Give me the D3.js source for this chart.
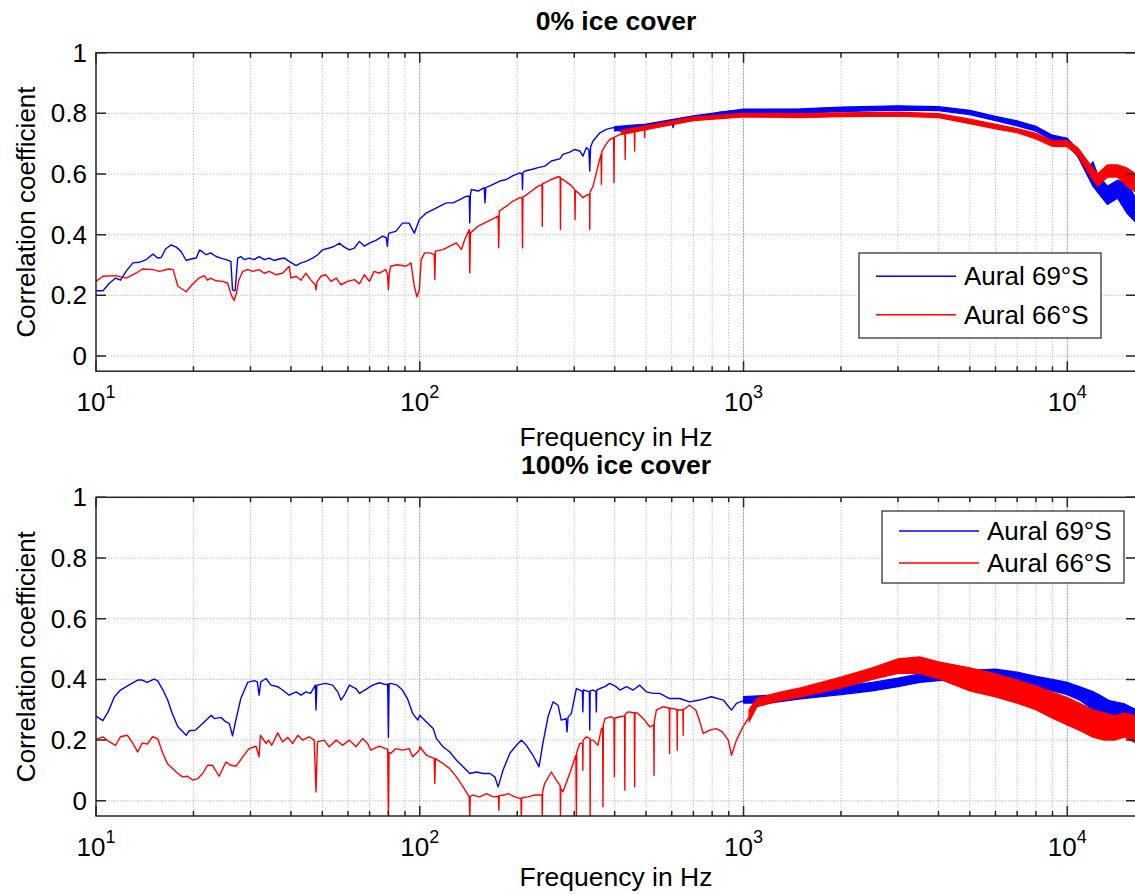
<!DOCTYPE html>
<html>
<head>
<meta charset="utf-8">
<script src="https://cdnjs.cloudflare.com/ajax/libs/d3/7.8.5/d3.min.js"></script>
<style>
  body { margin: 0; background: #fff; }
  svg { display: block; font-family: "Liberation Sans", Arial, sans-serif; }
</style>
</head>
<body>
<div id="chart"></div>
<script>
// ---- data: [frequency in Hz, correlation] ----
const seriesNames = ['Aural 69°S', 'Aural 66°S'];
const seriesColors = ['#0000ff', '#ff0000'];
const panelTitles = ['0% ice cover', '100% ice cover'];
const yTicks = [0, 0.2, 0.4, 0.6, 0.8, 1];
const yTickLabels = ['0', '0.2', '0.4', '0.6', '0.8', '1'];
const xDecades = [10, 100, 1000, 10000];
const xDecadeExp = ['1', '2', '3', '4'];

// 0% ice cover, thin part of the curves
const top69 = [
  [10,0.215],[10.5,0.215],[11,0.24],[11.5,0.257],[11.9,0.25],[12.4,0.28],[13,0.307],[13.6,0.309],
  [14.3,0.318],[15,0.336],[15.5,0.323],[15.9,0.325],[16.4,0.353],[17.05,0.366],[17.7,0.359],[18.3,0.345],
  [19,0.315],[19.65,0.32],[20.4,0.323],[20.9,0.35],[21.9,0.334],[22.6,0.34],[23.5,0.328],[24.3,0.323],
  [25.2,0.318],[26.1,0.312],[26.4,0.218],[26.9,0.215],[27.4,0.323],[28,0.328],[28.7,0.318],[29.7,0.323],
  [30.8,0.318],[31.9,0.328],[33.1,0.318],[34.3,0.323],[35.5,0.315],[36.8,0.32],[38.2,0.323],[39.5,0.312],
  [41.5,0.298],[43,0.307],[44.5,0.312],[46.7,0.323],[48.4,0.334],[50.1,0.35],[52.5,0.356],[54.5,0.362],
  [56.5,0.372],[58.5,0.359],[60.6,0.35],[62.8,0.356],[65.1,0.378],[67.4,0.362],[69.9,0.372],[73.2,0.381],
  [76.8,0.395],[78.8,0.39],[79.4,0.362],[80,0.4],[80.4,0.405],[84.3,0.411],[88.4,0.438],[92.7,0.438],
  [96.2,0.405],[99.7,0.45],[104.9,0.472],[110,0.483],[115.3,0.494],[120.9,0.505],[126.8,0.505],[132.9,0.516],
  [139.4,0.527],[142.2,0.527],[142.7,0.439],[143.3,0.53],[144.3,0.549],[151.4,0.544],[158.2,0.555],[159,0.505],
  [160,0.555],[168.5,0.566],[176.6,0.577],[185.2,0.582],[194.2,0.595],[203.7,0.604],[207,0.6],[207.6,0.549],
  [208.3,0.604],[211,0.61],[221.3,0.615],[232,0.621],[243.3,0.626],[255,0.643],[270.6,0.65],[277,0.665],
  [290.5,0.672],[301,0.681],[312,0.676],[319,0.659],[327,0.687],[333,0.68],[335,0.61],[337,0.69],
  [343,0.709],[360,0.736],[377,0.747],[395,0.753],[415,0.742],[435,0.747],[456,0.753],[478,0.76],
  [501,0.758],[526,0.764],[565,0.769],[600,0.77],[606,0.753],[612,0.772],[635,0.778],[698,0.786],
  [768,0.793],[846,0.804],[929,0.808],[1042,0.808]
];
const top66 = [
  [10,0.246],[10.5,0.263],[11.5,0.265],[12.4,0.257],[13.3,0.273],[13.9,0.287],[15,0.285],[15.7,0.279],
  [16.8,0.287],[17.3,0.285],[17.9,0.23],[19,0.212],[19.8,0.235],[20.8,0.257],[21.6,0.265],[22.1,0.25],
  [22.6,0.257],[23.5,0.248],[24.6,0.246],[25.5,0.24],[26.2,0.2],[26.7,0.183],[27.2,0.21],[27.6,0.25],
  [28.4,0.279],[29.4,0.285],[30.5,0.279],[31.9,0.285],[33.1,0.273],[34.3,0.279],[35.9,0.268],[37.7,0.273],
  [39.5,0.296],[40,0.257],[41.5,0.263],[43,0.25],[44.5,0.273],[46,0.252],[47.5,0.235],[47.8,0.218],
  [48.2,0.245],[49.5,0.263],[51.2,0.268],[53.2,0.246],[55.2,0.257],[57.1,0.235],[59.9,0.246],[62.8,0.252],
  [65.1,0.238],[67.4,0.268],[69.9,0.246],[72.3,0.279],[75,0.273],[78.5,0.285],[79.5,0.27],[80,0.218],
  [80.5,0.27],[81.3,0.296],[85.2,0.301],[90.5,0.296],[93.9,0.307],[96.2,0.23],[98,0.195],[99.7,0.218],
  [101,0.318],[103.6,0.34],[107,0.34],[110.8,0.335],[111.3,0.252],[111.8,0.346],[118,0.351],[123.8,0.362],
  [129.8,0.373],[134.5,0.351],[137.7,0.384],[142.2,0.417],[142.7,0.274],[143.4,0.406],[151.4,0.428],[158.7,0.439],
  [166.5,0.45],[174.6,0.461],[175.3,0.357],[176,0.478],[185.2,0.494],[194.2,0.511],[203.7,0.522],[207,0.52],
  [207.6,0.357],[208.3,0.525],[211,0.527],[221.3,0.544],[232,0.56],[238.5,0.565],[239,0.428],[239.6,0.568],
  [243.3,0.571],[255,0.582],[267.4,0.591],[271.5,0.59],[272,0.417],[272.6,0.585],[277,0.582],[290.5,0.566],
  [301,0.549],[301.7,0.45],[302.4,0.545],[309,0.538],[319,0.522],[331,0.533],[334.5,0.53],[335,0.417],
  [335.6,0.54],[343,0.56],[355,0.626],[363,0.665],[364,0.566],[365,0.675],[373,0.692],[386,0.714],
  [397,0.72],[398,0.571],[399,0.722],[405,0.725],[425,0.736],[430,0.74],[431,0.648],[432,0.742],
  [446,0.745],[460,0.75],[461,0.676],[462,0.752],[478,0.753],[494,0.755],[495,0.72],[496,0.757],
  [513,0.758],[551,0.764],[606,0.769],[666,0.78],[751,0.786],[846,0.791],[951,0.793],[1042,0.793]
];
// 0% ice cover, dense noisy part: [frequency, low edge, high edge]
const top69Band = [
  [400,0.742,0.756],[500,0.751,0.765],[700,0.779,0.792],[1000,0.8,0.814],[1500,0.801,0.815],[2000,0.806,0.821],
  [3000,0.811,0.825],[4000,0.809,0.822],[5000,0.796,0.81],[6000,0.776,0.79],[7000,0.759,0.775],[8000,0.741,0.757],
  [9000,0.711,0.728],[10000,0.7,0.718],[10800,0.655,0.68],[11600,0.59,0.62],[12000,0.56,0.64],[12400,0.54,0.6],
  [13300,0.5,0.56],[14300,0.52,0.58],[15300,0.47,0.57],[16300,0.44,0.52]
];
const top66Band = [
  [420,0.73,0.744],[500,0.746,0.759],[700,0.776,0.788],[1000,0.788,0.8],[1500,0.786,0.799],[2000,0.789,0.802],
  [3000,0.791,0.804],[4000,0.786,0.799],[5000,0.766,0.781],[6000,0.749,0.764],[7000,0.736,0.75],[8000,0.716,0.734],
  [9000,0.691,0.709],[10000,0.69,0.71],[10800,0.66,0.685],[11600,0.605,0.64],[12400,0.56,0.6],[13300,0.59,0.63],
  [14300,0.59,0.63],[15300,0.56,0.62],[16300,0.54,0.6]
];

// 100% ice cover, thin part of the curves
const bot69 = [
  [10,0.279],[10.5,0.264],[10.9,0.293],[11.4,0.343],[11.9,0.365],[12.7,0.383],[13.45,0.398],[13.9,0.398],
  [14.4,0.39],[15.1,0.401],[15.5,0.396],[16.1,0.365],[16.65,0.332],[17.2,0.288],[17.9,0.244],[19,0.216],
  [19.4,0.231],[20.3,0.233],[21.35,0.255],[22.7,0.282],[23.2,0.271],[24.3,0.275],[25.2,0.26],[25.8,0.255],
  [26.4,0.214],[27.1,0.271],[28,0.337],[29.4,0.39],[30.8,0.396],[31.5,0.392],[31.9,0.348],[32.3,0.392],
  [33.5,0.403],[34.7,0.381],[36.4,0.376],[37.7,0.365],[39.5,0.348],[41.5,0.359],[43,0.348],[44.5,0.359],
  [46,0.354],[47.6,0.381],[47.8,0.299],[48.1,0.381],[51.2,0.387],[53.8,0.381],[55.8,0.359],[57.1,0.332],
  [58.5,0.348],[60.6,0.381],[63.5,0.37],[65.1,0.354],[68.2,0.367],[71.5,0.381],[75,0.389],[78.5,0.383],
  [79.6,0.385],[80,0.209],[80.4,0.385],[81.3,0.387],[85.2,0.381],[88.4,0.365],[91.6,0.337],[95.1,0.288],
  [98.6,0.266],[100,0.282],[104.9,0.26],[110,0.238],[112.6,0.205],[118,0.178],[123.8,0.161],[129.8,0.134],
  [136.1,0.112],[142.7,0.09],[149.6,0.095],[157,0.09],[164.6,0.09],[170.5,0.079],[174.6,0.046],[180.8,0.101],
  [189.6,0.156],[198.8,0.183],[205.9,0.2],[213.4,0.183],[223.7,0.15],[233.5,0.112],[240,0.189],[249,0.277],
  [258,0.326],[267.4,0.315],[273.5,0.266],[283,0.271],[285,0.227],[287,0.275],[293.8,0.288],[304.6,0.37],
  [312,0.365],[318,0.36],[319,0.293],[320,0.365],[334,0.36],[335,0.233],[336,0.362],[343,0.365],
  [350,0.36],[351,0.293],[352,0.365],[360,0.37],[373,0.376],[386,0.387],[404,0.376],[415,0.365],
  [435,0.376],[456,0.365],[478,0.381],[501,0.359],[526,0.354],[551,0.354],[591,0.337],[635,0.337],
  [681,0.326],[731,0.332],[795,0.343],[866,0.332],[918,0.299],[951,0.321],[1010,0.332],[1042,0.332]
];
const bot66 = [
  [10,0.202],[10.5,0.211],[11,0.194],[11.5,0.183],[11.9,0.211],[12.5,0.216],[13,0.189],[13.45,0.161],
  [13.9,0.191],[14.4,0.187],[14.95,0.211],[15.5,0.205],[16.1,0.156],[16.65,0.121],[17.7,0.095],[18.5,0.079],
  [19.2,0.081],[19.9,0.068],[20.6,0.073],[21.35,0.09],[22.1,0.117],[22.9,0.117],[24,0.081],[25.2,0.128],
  [26.1,0.117],[27.1,0.114],[28.4,0.145],[29.7,0.172],[31.2,0.18],[31.9,0.145],[32.2,0.216],[33.5,0.189],
  [34.1,0.2],[34.9,0.183],[36.4,0.224],[37.7,0.194],[39.1,0.209],[40.5,0.189],[42,0.216],[43.5,0.2],
  [45.5,0.211],[47.2,0.2],[47.8,0.029],[48.3,0.194],[50.7,0.2],[52.5,0.178],[55.2,0.2],[57.8,0.183],
  [60.6,0.2],[63.5,0.178],[66.6,0.205],[69,0.189],[70.6,0.167],[75,0.18],[78.5,0.172],[79.6,0.17],
  [80,-0.06],[80.4,0.16],[81.3,0.156],[84.3,0.172],[88.4,0.167],[92.7,0.172],[95.1,0.145],[99.7,0.167],
  [100,0.178],[104.9,0.15],[110.8,0.14],[111.3,0.057],[111.8,0.139],[118,0.123],[123.8,0.106],[129.8,0.079],
  [136.1,0.046],[142.2,0.013],[142.7,-0.06],[143.2,0.015],[146,0.019],[153,0.013],[160.6,0.024],[168.5,0.013],
  [175,0.015],[175.5,-0.031],[176,0.017],[182,0.019],[187.3,0.024],[196.5,0.013],[205.4,0.007],[205.9,-0.06],
  [206.5,0.01],[216,0.013],[226,0.019],[238.5,0.02],[239,-0.06],[239.6,0.03],[243,0.057],[255,0.095],
  [264,0.068],[271.5,0.05],[272,-0.06],[272.6,0.04],[277,0.03],[290.5,0.09],[301,0.139],[303.5,0.15],
  [304.6,-0.06],[305.5,0.16],[312,0.189],[318.5,0.19],[319,0.101],[319.5,0.2],[327,0.211],[335.5,0.205],
  [336,-0.06],[336.6,0.2],[343,0.2],[355,0.183],[364,0.238],[367,0.24],[368,-0.02],[369,0.25],
  [373,0.271],[390,0.277],[398,0.272],[399,0.079],[400,0.272],[415,0.277],[429,0.28],[430,0.035],
  [431,0.285],[440,0.293],[460,0.29],[461,0.046],[462,0.29],[472,0.288],[495,0.266],[513,0.244],
  [528,0.25],[529,0.084],[530,0.26],[538,0.299],[565,0.31],[590,0.305],[591,0.156],[592,0.305],
  [606,0.304],[623,0.3],[624,0.167],[625,0.3],[635,0.299],[650,0.3],[651,0.216],[652,0.3],
  [681,0.315],[712,0.299],[730,0.266],[751,0.222],[787,0.233],[824,0.238],[860,0.227],[897,0.2],
  [918,0.15],[951,0.2],[996,0.244],[1042,0.277]
];
// 100% ice cover, dense noisy part: [frequency, low edge, high edge]
const bot69Band = [
  [1000,0.322,0.343],[1200,0.322,0.348],[1500,0.336,0.358],[2000,0.35,0.378],[2500,0.362,0.39],[3000,0.376,0.404],
  [3500,0.39,0.418],[4000,0.396,0.424],[5000,0.4,0.43],[6000,0.402,0.434],[7000,0.392,0.424],[8000,0.376,0.41],
  [9000,0.362,0.4],[10000,0.35,0.39],[11000,0.33,0.375],[12000,0.3,0.36],[12500,0.27,0.35],[13500,0.27,0.33],
  [15000,0.26,0.32],[16300,0.25,0.3]
];
const bot66Band = [
  [1040,0.26,0.3],[1100,0.31,0.338],[1300,0.33,0.358],[1500,0.342,0.372],[2000,0.372,0.408],[2500,0.4,0.438],
  [3000,0.42,0.468],[3500,0.42,0.474],[4000,0.402,0.458],[5000,0.362,0.438],[6000,0.342,0.418],[7000,0.322,0.398],
  [8000,0.3,0.378],[9000,0.272,0.358],[10000,0.25,0.34],[11000,0.23,0.32],[12000,0.21,0.3],[13000,0.2,0.29],
  [14000,0.2,0.28],[15000,0.21,0.29],[16300,0.19,0.28]
];

const width = 1135, height = 894;
const svg = d3.select('#chart').append('svg')
  .attr('width', width)
  .attr('height', height);

const xscale = d3.scaleLog().domain([10, 16300]).range([96, 1136]);

// minor grid positions 2..9 x 10^k inside the domain
const xMinor = [];
for (let k = 1; k <= 4; k++) {
  for (let m = 2; m <= 9; m++) {
    const v = m * Math.pow(10, k);
    if (v < 16300) xMinor.push(v);
  }
}

const panels = [
  { top: 52.7, bottom: 371.2, title: panelTitles[0], lines: [top69, top66], bands: [top69Band, top66Band],
    legend: { x: 859, y: 253, w: 242, h: 85 }, xlabelY: 446 },
  { top: 497.3, bottom: 816, title: panelTitles[1], lines: [bot69, bot66], bands: [bot69Band, bot66Band],
    legend: { x: 882, y: 511, w: 242, h: 72 }, xlabelY: 886 }
];

panels.forEach((p, i) => {
  const yscale = d3.scaleLinear().domain([-0.05, 1]).range([p.bottom, p.top]);
  const x0 = xscale.range()[0], x1 = xscale.range()[1];
  const g = svg.append('g');

  g.append('clipPath').attr('id', 'clip' + i)
    .append('rect')
    .attr('x', x0).attr('y', p.top)
    .attr('width', x1 - x0).attr('height', p.bottom - p.top);

  // grid
  const grid = g.append('g');
  grid.selectAll('.gx').data(xMinor).enter().append('line')
    .attr('x1', d => xscale(d)).attr('x2', d => xscale(d))
    .attr('y1', p.top).attr('y2', p.bottom)
    .attr('stroke', '#c4c4c4').attr('stroke-width', 1).attr('stroke-dasharray', '1.5,1.5');
  grid.selectAll('.gd').data(xDecades.slice(1)).enter().append('line')
    .attr('x1', d => xscale(d)).attr('x2', d => xscale(d))
    .attr('y1', p.top).attr('y2', p.bottom)
    .attr('stroke', '#9a9a9a').attr('stroke-width', 1).attr('stroke-dasharray', '2,1');
  grid.selectAll('.gy').data(yTicks).enter().append('line')
    .attr('x1', x0).attr('x2', x1)
    .attr('y1', d => yscale(d)).attr('y2', d => yscale(d))
    .attr('stroke', '#c4c4c4').attr('stroke-width', 1).attr('stroke-dasharray', '1.5,1.5');

  // data
  const plot = g.append('g').attr('clip-path', 'url(#clip' + i + ')');
  const line = d3.line().x(d => xscale(d[0])).y(d => yscale(d[1]));
  const area = d3.area().x(d => xscale(d[0])).y0(d => yscale(d[1])).y1(d => yscale(d[2]));
  [0, 1].forEach(s => {
    plot.append('path')
      .datum(p.lines[s])
      .attr('d', line)
      .attr('fill', 'none')
      .attr('stroke', seriesColors[s])
      .attr('stroke-width', 1.4)
      .attr('stroke-linejoin', 'round');
    plot.append('path')
      .datum(p.bands[s])
      .attr('d', area)
      .attr('fill', seriesColors[s])
      .attr('stroke', seriesColors[s])
      .attr('stroke-width', 1.2);
  });

  // axes box
  const ax = g.append('g').attr('stroke', '#262626').attr('stroke-width', 1.5);
  ax.append('rect')
    .attr('x', x0).attr('y', p.top)
    .attr('width', x1 - x0).attr('height', p.bottom - p.top)
    .attr('fill', 'none');
  ax.selectAll('.ty').data(yTicks).enter().append('path')
    .attr('d', d => `M${x0},${yscale(d)}h10M${x1},${yscale(d)}h-10`);
  ax.selectAll('.txm').data(xMinor).enter().append('path')
    .attr('d', d => `M${xscale(d)},${p.bottom}v-5M${xscale(d)},${p.top}v5`);
  ax.selectAll('.txd').data(xDecades).enter().append('path')
    .attr('d', d => `M${xscale(d)},${p.bottom}v-10M${xscale(d)},${p.top}v10`);

  // tick labels
  g.selectAll('.yl').data(yTicks).enter().append('text')
    .attr('x', 87).attr('y', d => yscale(d))
    .attr('text-anchor', 'end').attr('dominant-baseline', 'central')
    .attr('font-size', 26).attr('fill', '#000')
    .text((d, j) => yTickLabels[j]);
  const xl = g.selectAll('.xl').data(xDecades).enter().append('text')
    .attr('x', d => xscale(d)).attr('y', p.bottom + 40)
    .attr('text-anchor', 'middle').attr('font-size', 26).attr('fill', '#000');
  xl.append('tspan').text('10');
  xl.append('tspan').attr('dy', -13).attr('font-size', 18).text((d, j) => xDecadeExp[j]);

  // titles and axis labels
  g.append('text')
    .attr('x', (x0 + x1) / 2).attr('y', p.top - 23)
    .attr('text-anchor', 'middle').attr('font-size', 26.5).attr('font-weight', 'bold')
    .text(p.title);
  g.append('text')
    .attr('x', (x0 + x1) / 2).attr('y', p.xlabelY)
    .attr('text-anchor', 'middle').attr('font-size', 26.5)
    .text('Frequency in Hz');
  g.append('text')
    .attr('transform', `translate(35,${(p.top + p.bottom) / 2}) rotate(-90)`)
    .attr('text-anchor', 'middle').attr('font-size', 26)
    .text('Correlation coefficient');

  // legend
  const L = p.legend;
  const lg = g.append('g');
  lg.append('rect')
    .attr('x', L.x).attr('y', L.y).attr('width', L.w).attr('height', L.h)
    .attr('fill', '#fff').attr('stroke', '#262626').attr('stroke-width', 1.2);
  const rowH = (L.h - 8) / 2;
  seriesNames.forEach((name, s) => {
    const cy = L.y + 4 + rowH * (s + 0.5);
    lg.append('line')
      .attr('x1', L.x + 17).attr('x2', L.x + 97)
      .attr('y1', cy).attr('y2', cy)
      .attr('stroke', seriesColors[s]).attr('stroke-width', 1.5);
    lg.append('text')
      .attr('x', L.x + 105).attr('y', cy)
      .attr('dominant-baseline', 'central').attr('font-size', 26)
      .text(name);
  });
});
</script>
</body>
</html>
